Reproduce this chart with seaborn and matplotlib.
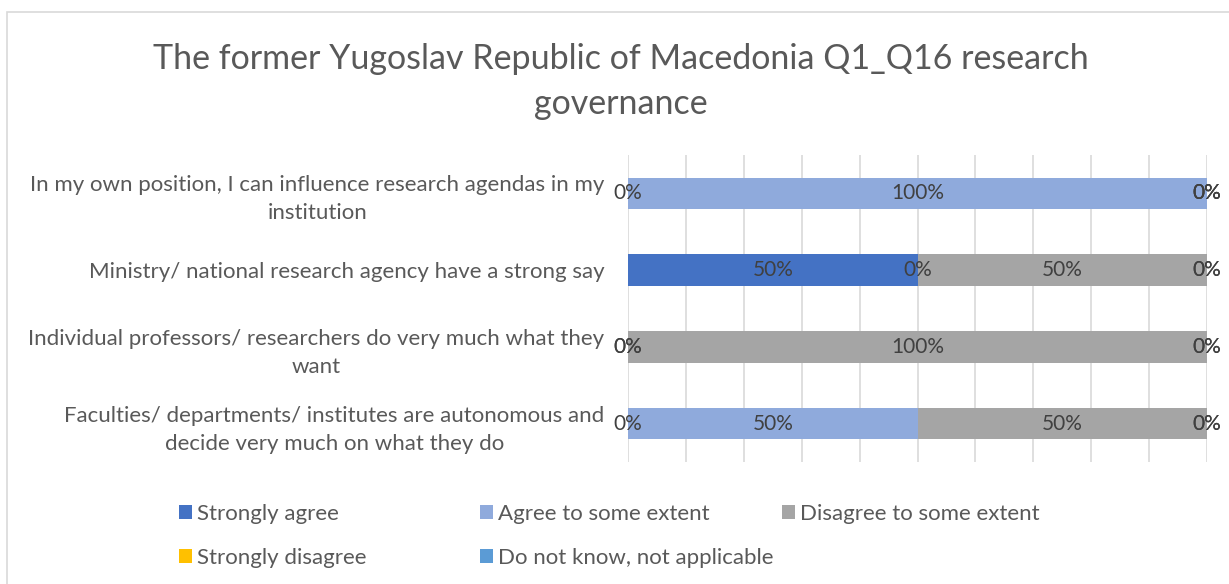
import matplotlib
matplotlib.use("Agg")
import matplotlib.pyplot as plt
import seaborn as sns
import numpy as np
import pandas as pd
from matplotlib.patches import Patch, Rectangle

sns.set_theme(style="white")
plt.rcParams['font.family'] = ['Lato', 'DejaVu Sans']

title = "The former Yugoslav Republic of Macedonia Q1_Q16 research\ngovernance"
categories = [
    "In my own position, I can influence research agendas in my\ninstitution",
    "Ministry/ national research agency have a strong say",
    "Individual professors/ researchers do very much what they\nwant",
    "Faculties/ departments/ institutes are autonomous and\ndecide very much on what they do",
]
series_names = ["Strongly agree", "Agree to some extent", "Disagree to some extent",
                "Strongly disagree", "Do not know, not applicable"]
strongly_agree = [0.0, 0.5, 0.0, 0.0]
agree_some = [1.0, 0.0, 0.0, 0.5]
disagree_some = [0.0, 0.5, 1.0, 0.5]
strongly_disagree = [0.0, 0.0, 0.0, 0.0]
dont_know = [0.0, 0.0, 0.0, 0.0]
colors = ["#4472C4", "#8FAADC", "#A5A5A5", "#FFC000", "#5B9BD5"]

values = np.array([strongly_agree, agree_some, disagree_some, strongly_disagree, dont_know])
cum = np.cumsum(values, axis=0)
left = cum - values

fig = plt.figure(figsize=(12.29, 5.84), dpi=100)
ax = fig.add_axes([628/1229, 1-462/584, (1207-628)/1229, (462-155)/584])

# draw stacked bars from longest cumulative to shortest
for i in range(len(series_names)-1, -1, -1):
    df = pd.DataFrame({"cat": categories, "val": cum[i]})
    sns.barplot(data=df, x="val", y="cat", orient="h", color=colors[i],
                saturation=1, width=0.41, ax=ax, linewidth=0, zorder=2)

# data labels
for i in range(len(series_names)):
    for j in range(len(categories)):
        ax.text(left[i, j] + values[i, j]/2, j, f"{values[i, j]:.0%}",
                ha="center", va="center", fontsize=15, color="#404040", zorder=5)

ax.set_xlim(0, 1)
ax.set_ylim(3.5, -0.5)
ax.set_xticks(np.arange(0, 1.01, 0.1))
ax.set_xticklabels([])
ax.grid(axis="x", color="#D9D9D9", linewidth=1.2, zorder=0)
ax.set_axisbelow(True)
for s in ax.spines.values():
    s.set_visible(False)
ax.set_xlabel("")
ax.set_ylabel("")
ax.tick_params(axis="both", length=0)
ax.tick_params(axis="y", pad=17)
for lbl in ax.get_yticklabels():
    lbl.set_fontsize(16)
    lbl.set_color("#595959")
    lbl.set_multialignment("center")
    lbl.set_linespacing(1.5)

fig.text(621/1229, 1-81.5/584, title, ha="center", va="center", fontsize=24.5,
         color="#595959", linespacing=1.5)

# legend: three columns laid out like the reference
handles = [Patch(facecolor=c, edgecolor="none") for c in colors]
cols = [([0, 3], 179), ([1, 4], 480), ([2], 782)]
for idx, xpx in cols:
    fig.legend([handles[k] for k in idx], [series_names[k] for k in idx],
               loc="upper left", bbox_to_anchor=(xpx/1229, 1-504/584),
               frameon=False, fontsize=16, labelcolor="#595959",
               handlelength=0.585, handleheight=0.585, handletextpad=0.23,
               labelspacing=1.08, borderpad=0, borderaxespad=0)

# outer chart border
fig.patches.append(Rectangle((7/1229, -0.1), 1.2, 1-12/584+0.1, transform=fig.transFigure,
                             fill=False, edgecolor="#D9D9D9", linewidth=1.2))

fig.savefig("out.png", dpi=100)
